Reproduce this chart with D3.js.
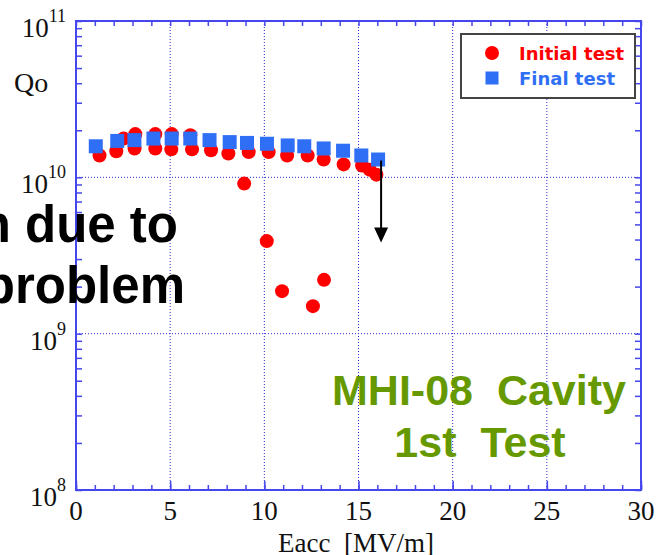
<!DOCTYPE html>
<html>
<head>
<meta charset="utf-8">
<script src="https://cdn.jsdelivr.net/npm/d3@7"></script>
<style>
  html, body { margin: 0; padding: 0; background: #fff; }
  svg { display: block; }
</style>
</head>
<body>
<div id="chart"></div>
<script>
// Qo vs Eacc, vertical test of cavity MHI-08 (1st test)
const initialE = [1.25, 2.14, 2.53, 3.11, 3.15, 4.21, 4.21, 5.06, 5.08, 6.16, 6.07, 7.17, 8.09, 9.17, 10.23, 11.21, 12.30, 13.15, 14.21, 15.19, 15.59, 15.95,
                  8.93, 10.13, 10.94, 12.58, 13.17];
const initialQ = [1.38e10, 1.47e10, 1.77e10, 1.53e10, 1.89e10, 1.53e10, 1.89e10, 1.51e10, 1.89e10, 1.51e10, 1.86e10, 1.49e10, 1.42e10, 1.45e10, 1.45e10, 1.38e10, 1.38e10, 1.30e10, 1.21e10, 1.19e10, 1.12e10, 1.04e10,
                  9.12e9, 3.91e9, 1.87e9, 1.50e9, 2.21e9];
const finalE = [1.05, 2.19, 3.10, 4.11, 5.08, 6.07, 7.09, 8.16, 9.08, 10.14, 11.24, 12.12, 13.15, 14.18, 15.15, 16.04];
const finalQ = [1.58e10, 1.71e10, 1.73e10, 1.77e10, 1.77e10, 1.77e10, 1.73e10, 1.68e10, 1.66e10, 1.64e10, 1.60e10, 1.58e10, 1.53e10, 1.48e10, 1.38e10, 1.30e10];

const seriesNames = ["Initial test", "Final test"];
const seriesColors = ["#ff0000", "#2f6ff5"];

const xTicks = [0, 5, 10, 15, 20, 25, 30];
const yExponents = [8, 9, 10, 11];

// Arrow marking the final-test limit
const arrowE = 16.2;
const arrowFrom = 1.28e10;
const arrowTo = 3.83e9;

const W = 658, H = 555;
const plotL = 76, plotR = 641, plotT = 21, plotB = 490;
const gap2 = "\u00a0\u00a0";

const svg = d3.select("#chart").append("svg")
  .attr("width", W).attr("height", H);

const x = d3.scaleLinear().domain([0, 30]).range([plotL, plotR]);
const y = d3.scaleLog().domain([1e8, 1e11]).range([plotB, plotT]);

const axisColor = "#4646ee";
const gridColor = "#2b2bd0";

// dotted grid
const grid = svg.append("g");
grid.selectAll("line.gx").data(xTicks.filter(d => d > 0 && d < 30)).join("line")
  .attr("x1", d => x(d)).attr("x2", d => x(d))
  .attr("y1", plotT).attr("y2", plotB)
  .attr("stroke", gridColor).attr("stroke-width", 1).attr("stroke-dasharray", "1,2");
grid.selectAll("line.gy").data(yExponents.slice(1, -1)).join("line")
  .attr("x1", plotL).attr("x2", plotR)
  .attr("y1", d => y(Math.pow(10, d))).attr("y2", d => y(Math.pow(10, d)))
  .attr("stroke", gridColor).attr("stroke-width", 1).attr("stroke-dasharray", "1,2");

// axes with inward ticks on all four sides
const minorX = d3.range(0, 31);
const minorY = [];
yExponents.slice(0, -1).forEach(e => { for (let k = 1; k <= 9; k++) minorY.push(k * Math.pow(10, e)); });
minorY.push(1e11);

function styleAxis(g) {
  g.selectAll("path").remove();
  g.selectAll("line").attr("stroke", axisColor).attr("stroke-width", 1.5);
  g.selectAll("text").remove();
}
svg.append("g").attr("transform", `translate(0,${plotB})`)
  .call(d3.axisBottom(x).tickValues(minorX).tickSize(-5).tickFormat("")).call(styleAxis);
svg.append("g").attr("transform", `translate(0,${plotB})`)
  .call(d3.axisBottom(x).tickValues(xTicks).tickSize(-9).tickFormat("")).call(styleAxis);
svg.append("g").attr("transform", `translate(0,${plotT})`)
  .call(d3.axisTop(x).tickValues(minorX).tickSize(-5).tickFormat("")).call(styleAxis);
svg.append("g").attr("transform", `translate(${plotL},0)`)
  .call(d3.axisLeft(y).tickValues(minorY).tickSize(-6).tickFormat("")).call(styleAxis);
svg.append("g").attr("transform", `translate(${plotR},0)`)
  .call(d3.axisRight(y).tickValues(minorY).tickSize(-6).tickFormat("")).call(styleAxis);

// frame
svg.append("rect")
  .attr("x", plotL).attr("y", plotT)
  .attr("width", plotR - plotL).attr("height", plotB - plotT)
  .attr("fill", "none").attr("stroke", axisColor).attr("stroke-width", 2);

// tick labels
const serif = "'Liberation Serif', 'Times New Roman', serif";
svg.append("g").selectAll("text").data(xTicks).join("text")
  .attr("x", d => x(d)).attr("y", plotB + 30)
  .attr("text-anchor", "middle")
  .attr("font-family", serif).attr("font-size", 27).attr("fill", "#111")
  .text(d => d);

const yl = svg.append("g").selectAll("text").data(yExponents).join("text")
  .attr("x", 66).attr("y", d => y(Math.pow(10, d)) + 16)
  .attr("text-anchor", "end")
  .attr("font-family", serif).attr("font-size", 27).attr("fill", "#111");
yl.append("tspan").text("10");
yl.append("tspan").attr("dy", -15).attr("font-size", 18).text(d => d);

// axis titles
svg.append("text").attr("x", 14).attr("y", 92)
  .attr("font-family", serif).attr("font-size", 28).attr("fill", "#111")
  .text("Qo");
svg.append("text").attr("x", 356).attr("y", 552)
  .attr("text-anchor", "middle")
  .attr("font-family", serif).attr("font-size", 27).attr("fill", "#111")
  .text("Eacc" + gap2 + "[MV/m]");

// data
const initial = initialE.map((e, i) => ({ e, q: initialQ[i] }));
const final = finalE.map((e, i) => ({ e, q: finalQ[i] }));

svg.append("g").selectAll("circle").data(initial).join("circle")
  .attr("cx", d => x(d.e)).attr("cy", d => y(d.q)).attr("r", 7)
  .attr("fill", seriesColors[0]);

const sq = 14;
svg.append("g").selectAll("rect").data(final).join("rect")
  .attr("x", d => x(d.e) - sq / 2).attr("y", d => y(d.q) - sq / 2)
  .attr("width", sq).attr("height", sq)
  .attr("fill", seriesColors[1]);

// arrow
const ax = x(arrowE), ay1 = y(arrowFrom), ay2 = y(arrowTo);
svg.append("line")
  .attr("x1", ax).attr("x2", ax).attr("y1", ay1).attr("y2", ay2 - 12)
  .attr("stroke", "#000").attr("stroke-width", 2);
svg.append("path")
  .attr("d", `M${ax - 7},${ay2 - 15} L${ax + 7},${ay2 - 15} L${ax},${ay2} Z`)
  .attr("fill", "#000");

// legend
const lg = svg.append("g");
lg.append("rect").attr("x", 461).attr("y", 34).attr("width", 174).attr("height", 64)
  .attr("fill", "#fff").attr("stroke", "#444").attr("stroke-width", 2);
lg.append("circle").attr("cx", 492).attr("cy", 53).attr("r", 7).attr("fill", seriesColors[0]);
lg.append("rect").attr("x", 492 - 6.5).attr("y", 78 - 6.5).attr("width", 13).attr("height", 13).attr("fill", seriesColors[1]);
lg.selectAll("text").data(seriesNames).join("text")
  .attr("x", 519).attr("y", (d, i) => 60 + i * 25)
  .attr("font-family", "'DejaVu Sans', Verdana, sans-serif").attr("font-weight", "bold")
  .attr("font-size", 18).attr("fill", (d, i) => seriesColors[i])
  .text(d => d);

// annotation text
const sans = "'Liberation Sans', Arial, sans-serif";
const note = svg.append("g").attr("font-family", sans).attr("font-weight", "bold")
  .attr("font-size", 51).attr("fill", "#000").attr("text-anchor", "end");
note.append("text").attr("x", 178).attr("y", 242).text("Degradation due to");
note.append("text").attr("x", 185).attr("y", 303).text("vacuum problem");

const title = svg.append("g").attr("font-family", sans).attr("font-weight", "bold")
  .attr("font-size", 43).attr("fill", "#669900").attr("text-anchor", "middle");
title.append("text").attr("x", 479).attr("y", 405).text("MHI-08" + gap2 + "Cavity");
title.append("text").attr("x", 480).attr("y", 457).text("1st" + gap2 + "Test");
</script>
</body>
</html>
